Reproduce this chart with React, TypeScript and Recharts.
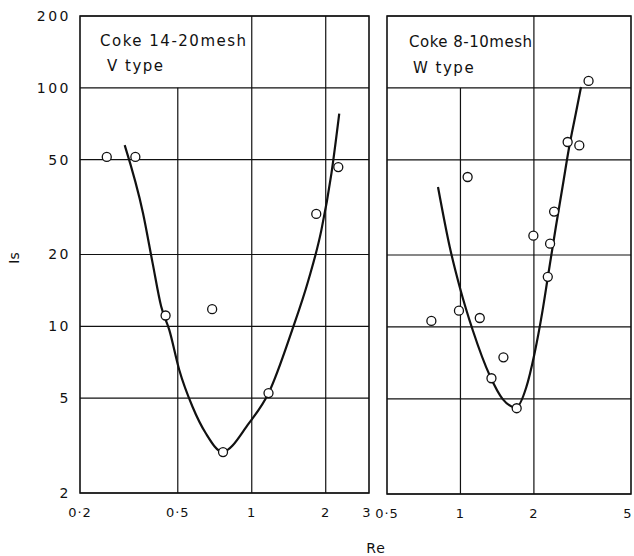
import {
  ComposedChart,
  Line,
  Scatter,
  XAxis,
  YAxis,
  CartesianGrid,
  ReferenceLine,
  ReferenceArea,
} from "recharts";

// Coke 14-20mesh, V type
const vRe = [0.257, 0.336, 0.446, 0.69, 0.764, 1.17, 1.83, 2.25];
const vIs = [51.3, 51.3, 11.1, 11.8, 2.97, 5.25, 29.6, 46.5];
const vFitRe = [0.304, 0.361, 0.395, 0.428, 0.462, 0.507, 0.574, 0.65, 0.759, 0.973, 1.17, 1.46, 1.7, 1.92, 2.11, 2.27];
const vFitIs = [57.5, 29.8, 18.4, 12.1, 9.64, 6.56, 4.6, 3.56, 2.98, 3.92, 5.24, 9.64, 15.6, 25.3, 43.8, 78];

// Coke 8-10mesh, W type
const wRe = [0.76, 0.986, 1.07, 1.2, 1.34, 1.5, 1.7, 1.99, 2.28, 2.33, 2.42, 2.75, 3.07, 3.35];
const wIs = [10.6, 11.7, 42.4, 10.9, 6.1, 7.46, 4.57, 24.1, 16.2, 22.3, 30.4, 59.4, 57.5, 107];
const wFitRe = [0.809, 0.904, 0.993, 1.125, 1.32, 1.49, 1.69, 1.86, 2.01, 2.17, 2.28, 2.46, 2.62, 2.79, 2.97, 3.12];
const wFitIs = [38.5, 21.6, 14.7, 9.64, 6.25, 4.99, 4.6, 5.58, 7.71, 11.7, 16.1, 26.2, 38.5, 56.6, 78.2, 101];

const yTicks = [2, 5, 10, 20, 50, 100, 200];
const yTickLabels = ["2", "5", "10", "20", "50", "100", "200"];
const vXTicks = [0.2, 0.5, 1, 2, 3];
const vXTickLabels = ["0·2", "0·5", "1", "2", "3"];
const wXTicks = [0.5, 1, 2, 5];
const wXTickLabels = ["0·5", "1", "2", "5"];

const INK = "#111";
const FONT = "DejaVu Sans";

const toPoints = (re: number[], is: number[]) => re.map((r, i) => ({ re: r, is: is[i] }));

const Circle = (props: any) => (
  <circle cx={props.cx} cy={props.cy} r={4.5} fill="#fff" stroke={INK} strokeWidth={1.3} />
);

interface PanelProps {
  left: number;
  width: number;
  margin: { top: number; right: number; bottom: number; left: number };
  xDomain: [number, number];
  xTicks: number[];
  xLabels: string[];
  showY: boolean;
  xAxisHeight: number;
  points: { re: number; is: number }[];
  fit: { re: number; is: number }[];
  fullLines: number[];
}

function Panel(p: PanelProps) {
  const lastIdx = p.xTicks.length - 1;
  const renderTick = (t: any) => {
    let shift = 0;
    if (t.index === lastIdx) shift = p.showY ? -2 : -3;
    return (
      <text
        x={t.x + shift}
        y={t.y}
        dy="0.71em"
        textAnchor="middle"
        fontFamily={FONT}
        fontSize={13}
        letterSpacing={1}
        fill={INK}
      >
        {p.xLabels[t.index]}
      </text>
    );
  };
  return (
    <div style={{ position: "absolute", left: p.left, top: 0 }}>
      <ComposedChart width={p.width} height={556} margin={p.margin}>
        <CartesianGrid vertical={false} stroke={INK} strokeWidth={1.2} />
        <XAxis
          dataKey="re"
          type="number"
          scale="log"
          domain={p.xDomain}
          ticks={p.xTicks}
          allowDataOverflow
          axisLine={false}
          tickLine={false}
          tickSize={0}
          tickMargin={15}
          height={p.xAxisHeight}
          tick={renderTick}
          interval={0}
        />
        <YAxis
          dataKey="is"
          type="number"
          scale="log"
          domain={[2, 200]}
          ticks={yTicks}
          allowDataOverflow
          hide={!p.showY}
          width={80}
          axisLine={false}
          tickLine={false}
          tickSize={0}
          tickMargin={9}
          interval={0}
          tickFormatter={(v: number) => yTickLabels[yTicks.indexOf(v)] ?? String(v)}
          tick={{ fontFamily: FONT, fontSize: 14, letterSpacing: 2.5, fill: INK }}
        />
        {/* partial line under the label box */}
        <ReferenceLine
          segment={[
            { x: p.xTicks[1], y: 2 },
            { x: p.xTicks[1], y: 100 },
          ]}
          stroke={INK}
          strokeWidth={1.2}
        />
        {p.fullLines.map((x) => (
          <ReferenceLine key={x} x={x} stroke={INK} strokeWidth={1.2} />
        ))}
        <ReferenceArea
          x1={p.xDomain[0]}
          x2={p.xDomain[1]}
          y1={2}
          y2={200}
          fill="none"
          stroke={INK}
          strokeWidth={1.6}
        />
        <Line
          data={p.fit}
          dataKey="is"
          type="monotone"
          stroke={INK}
          strokeWidth={2.2}
          dot={false}
          activeDot={false}
          isAnimationActive={false}
        />
        <Scatter data={p.points} dataKey="is" shape={Circle} isAnimationActive={false} />
      </ComposedChart>
    </div>
  );
}

export default function App() {
  return (
    <div
      style={{
        position: "absolute",
        left: 0,
        top: 0,
        width: 634,
        height: 556,
        background: "#fff",
        overflow: "hidden",
      }}
    >
      <Panel
        left={0}
        width={380}
        margin={{ top: 16, right: 11, bottom: 0, left: 0 }}
        xDomain={[0.2, 3]}
        xTicks={vXTicks}
        xLabels={vXTickLabels}
        showY
        xAxisHeight={63}
        points={toPoints(vRe, vIs)}
        fit={toPoints(vFitRe, vFitIs)}
        fullLines={[1, 2]}
      />
      <Panel
        left={370}
        width={264}
        margin={{ top: 16, right: 3, bottom: 0, left: 17 }}
        xDomain={[0.5, 5]}
        xTicks={wXTicks}
        xLabels={wXTickLabels}
        showY={false}
        xAxisHeight={62}
        points={toPoints(wRe, wIs)}
        fit={toPoints(wFitRe, wFitIs)}
        fullLines={[2]}
      />
      <svg
        width={634}
        height={556}
        style={{ position: "absolute", left: 0, top: 0, pointerEvents: "none" }}
        fontFamily={FONT}
        fill={INK}
      >
        <text x={100} y={46} fontSize={15} letterSpacing={1.5}>Coke 14-20mesh</text>
        <text x={107} y={71} fontSize={15} letterSpacing={1.5}>V type</text>
        <text x={409} y={47} fontSize={15} letterSpacing={0.5}>Coke 8-10mesh</text>
        <text x={413} y={73} fontSize={15} letterSpacing={1.5}>W type</text>
        <text x={14} y={258} fontSize={14} textAnchor="middle" transform="rotate(-90 14 258)" dy="0.35em">
          Is
        </text>
        <text x={376} y={553} fontSize={14} textAnchor="middle" letterSpacing={1}>
          Re
        </text>
      </svg>
    </div>
  );
}
